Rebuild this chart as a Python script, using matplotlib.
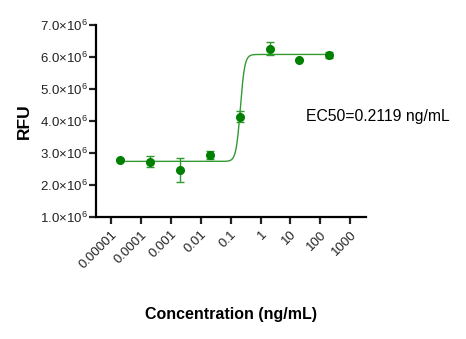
import numpy as np
import matplotlib
matplotlib.use("Agg")
import matplotlib.pyplot as plt
from matplotlib.ticker import FixedLocator, FixedFormatter

plt.rcParams['font.family'] = ['Liberation Sans', 'DejaVu Sans']
plt.rcParams['mathtext.fontset'] = 'custom'
plt.rcParams['mathtext.rm'] = 'Liberation Sans'
plt.rcParams['mathtext.it'] = 'Liberation Sans:italic'
plt.rcParams['mathtext.bf'] = 'Liberation Sans:bold'

# dose-response data (ng/mL, RFU)
conc = [2e-5, 2e-4, 2e-3, 2e-2, 0.2, 2, 20, 200]
rfu = [2.77e6, 2.72e6, 2.46e6, 2.94e6, 4.13e6, 6.26e6, 5.90e6, 6.07e6]
err = [0.03e6, 0.17e6, 0.38e6, 0.12e6, 0.18e6, 0.20e6, 0.0, 0.10e6]

# 4PL fit parameters
bottom = 2.73e6
top = 6.08e6
ec50 = 0.2119
hill = 6.0

xticks = [1e-5, 1e-4, 1e-3, 1e-2, 1e-1, 1, 10, 100, 1000]
xlabels = ["0.00001", "0.0001", "0.001", "0.01", "0.1", "1", "10", "100", "1000"]
yticks = [1e6, 2e6, 3e6, 4e6, 5e6, 6e6, 7e6]
ylabels = [r"%.1f$\times$10$^{6}$" % (v / 1e6) for v in yticks]

green = "#008000"

fig = plt.figure(figsize=(4.66, 3.39), dpi=100)
ax = fig.add_axes([0.206, 0.361, 0.579, 0.565])

xs = np.logspace(np.log10(conc[0]), np.log10(conc[-1]), 600)
fit = bottom + (top - bottom) / (1 + (ec50 / xs) ** hill)
ax.plot(xs, fit, color=green, lw=1.0, alpha=0.8)

ax.errorbar(conc, rfu, yerr=err, fmt='o', color=green, ms=5.5, capsize=3,
            elinewidth=1.0, capthick=1.0, ecolor="#2e9a2e")

ax.set_xscale('log')
ax.set_xlim(10 ** -5.5, 10 ** 3.52)
ax.set_ylim(1e6, 7e6)
ax.xaxis.set_major_locator(FixedLocator(xticks))
ax.xaxis.set_major_formatter(FixedFormatter(xlabels))
ax.xaxis.set_minor_locator(FixedLocator([]))
ax.set_yticks(yticks)
ax.set_yticklabels(ylabels)

for s in ['top', 'right']:
    ax.spines[s].set_visible(False)
for s in ['left', 'bottom']:
    ax.spines[s].set_linewidth(1.6)
ax.tick_params(axis='both', width=1.6, length=5, labelsize=9.5, colors='#222222')
ax.tick_params(axis='y', pad=1)
plt.setp(ax.get_xticklabels(), rotation=45, ha='right', va='top', rotation_mode='anchor')

ax.set_ylabel("RFU", fontsize=12.5, fontweight='bold', labelpad=6)
ax.set_xlabel("Concentration (ng/mL)", fontsize=11.5, fontweight='bold', labelpad=26)

fig.text(0.657, 0.655, "EC50=%.4f ng/mL" % ec50, fontsize=11.3, va='center', ha='left')

fig.savefig("out.png", dpi=100)
